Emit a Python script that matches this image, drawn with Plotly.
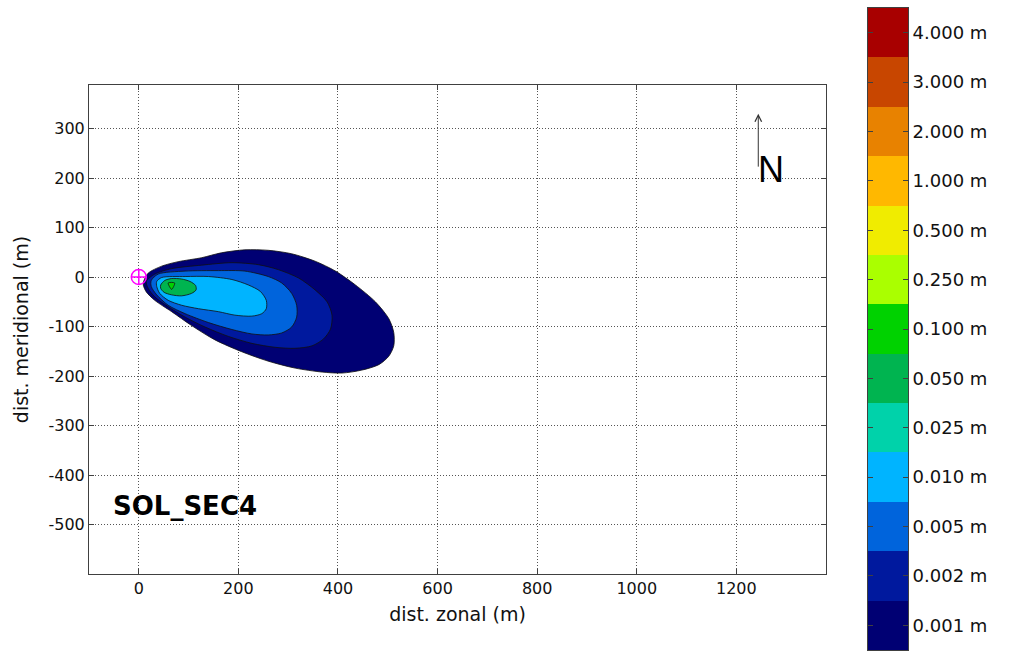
import plotly.graph_objects as go

# Deposit thickness classes (m) and their fill colours, low -> high
class_labels = ["0.001 m", "0.002 m", "0.005 m", "0.010 m", "0.025 m", "0.050 m",
                "0.100 m", "0.250 m", "0.500 m", "1.000 m", "2.000 m", "3.000 m", "4.000 m"]
class_colors = ["#000073", "#00199e", "#0064dc", "#00b4ff", "#00d2aa", "#00b450",
                "#00d200", "#aaff00", "#f0ec00", "#ffb800", "#e88200", "#c84600", "#a80000"]

# Iso-thickness outlines of the plume (x: zonal m, y: meridional m)
x_001 = [10, 19, 46, 79, 126, 166, 213, 260, 307, 354, 395, 435, 475, 502, 512, 512,
         502, 482, 448, 408, 368, 314, 260, 207, 153, 106, 66, 32, 15, 9]
y_001 = [-8, 8, 22, 31, 39, 49, 55, 54, 47, 32, 12, -16, -50, -84, -112, -139,
         -160, -177, -188, -194, -192, -184, -170, -151, -127, -98, -70, -47, -30, -16]

x_002 = [15, 32, 66, 126, 187, 240, 280, 321, 354, 378, 388, 385, 371, 348, 314, 274,
         227, 180, 133, 93, 59, 32, 19]
y_002 = [-9, 6, 17, 24, 29, 25, 15, -2, -26, -50, -77, -105, -125, -139, -144, -142,
         -134, -120, -101, -81, -60, -40, -23]

x_005 = [25, 39, 93, 160, 213, 260, 287, 307, 317, 317, 307, 287, 260, 227, 187, 140,
         93, 59, 36, 25]
y_005 = [-7, 6, 12, 13, 12, 1, -12, -33, -57, -81, -101, -113, -117, -115, -106, -92,
         -74, -57, -36, -19]

x_010 = [36, 46, 93, 140, 187, 220, 244, 256, 256, 247, 227, 193, 160, 120, 86, 59, 42, 36]
y_010 = [-9, -1, 1, 1, -5, -16, -29, -47, -64, -74, -79, -77, -70, -64, -57, -47, -33, -19]

x_050 = [44, 52, 66, 86, 103, 114, 115, 106, 86, 66, 51, 44]
y_050 = [-16, -7, -3, -4, -9, -17, -26, -33, -38, -36, -31, -23]

x_100 = [59, 72, 66]
y_100 = [-12, -12, -25]

# Vent position
vent_x = [0]
vent_y = [0]

x_ticks = [0, 200, 400, 600, 800, 1000, 1200]
y_ticks = [-500, -400, -300, -200, -100, 0, 100, 200, 300]

FONT = "DejaVu Sans"
AXIS_COL = "#404040"
GRID_COL = "#555555"
GRID_DASH = "1px,2px"

fig = go.Figure()

zones = [
    (x_001, y_001, class_colors[0]),
    (x_002, y_002, class_colors[1]),
    (x_005, y_005, class_colors[2]),
    (x_010, y_010, class_colors[3]),
    (x_050, y_050, class_colors[5]),
    (x_100, y_100, class_colors[6]),
]
for zx, zy, col in zones:
    fig.add_trace(go.Scatter(
        x=zx + zx[:1], y=zy + zy[:1], mode="lines", fill="toself", fillcolor=col,
        line=dict(color="#101010", width=0.8, shape="spline", smoothing=0.8),
        hoverinfo="skip", showlegend=False, xaxis="x", yaxis="y"))

fig.add_trace(go.Scatter(
    x=vent_x, y=vent_y, mode="markers",
    marker=dict(symbol="circle-cross-open", size=15, color="#ff00ff",
                line=dict(color="#ff00ff", width=1.5)),
    hoverinfo="skip", showlegend=False, xaxis="x", yaxis="y"))

# Discrete colour key as a one-column heatmap
fig.add_trace(go.Heatmap(
    z=[[i] for i in range(len(class_labels))], x=[0], y=class_labels,
    colorscale=[[i / (len(class_colors) - 1), c] for i, c in enumerate(class_colors)],
    zmin=0, zmax=len(class_colors) - 1, showscale=False, hoverinfo="skip",
    xaxis="x2", yaxis="y2"))


def tick_text(vals):
    # plain ASCII hyphen for negative values
    return [str(v) for v in vals]


fig.update_layout(
    width=1012, height=651,
    margin=dict(l=0, r=0, t=0, b=0),
    paper_bgcolor="white", plot_bgcolor="white",
    font=dict(family=FONT, size=16, color="#111111"),
    xaxis=dict(
        domain=[89 / 1012, 826 / 1012], range=[-100, 1380],
        tickvals=x_ticks, ticktext=tick_text(x_ticks),
        ticks="inside", ticklen=5, tickcolor=AXIS_COL,
        showline=True, linecolor=AXIS_COL, linewidth=1, mirror="ticks",
        showgrid=True, gridcolor=GRID_COL, griddash=GRID_DASH, gridwidth=1,
        zeroline=False, tickfont=dict(size=16),
        title=dict(text="dist. zonal (m)", font=dict(size=19), standoff=10),
        anchor="y"),
    yaxis=dict(
        domain=[1 - 574 / 651, 1 - 85 / 651], range=[-600, 388],
        tickvals=y_ticks, ticktext=tick_text(y_ticks),
        ticks="inside", ticklen=5, tickcolor=AXIS_COL,
        showline=True, linecolor=AXIS_COL, linewidth=1, mirror="ticks",
        showgrid=True, gridcolor=GRID_COL, griddash=GRID_DASH, gridwidth=1,
        zeroline=False, tickfont=dict(size=16),
        title=dict(text="dist. meridional (m)", font=dict(size=19), standoff=14),
        anchor="x"),
    xaxis2=dict(
        domain=[868 / 1012, 908 / 1012], anchor="y2", showticklabels=False,
        ticks="", showline=True, linecolor=AXIS_COL, mirror=True,
        showgrid=False, zeroline=False, fixedrange=True),
    yaxis2=dict(
        domain=[1 - 650 / 651, 1 - 8 / 651], anchor="x2", side="right",
        type="category", ticks="inside", ticklen=5, tickcolor=AXIS_COL,
        showline=True, linecolor=AXIS_COL, mirror="ticks",
        showgrid=False, zeroline=False, tickfont=dict(size=18), fixedrange=True),
    annotations=[
        dict(x=-55, y=-462, xref="x", yref="y", text="<b>SOL_SEC4</b>",
             showarrow=False, xanchor="left", yanchor="middle",
             font=dict(family=FONT, size=26, color="#000000")),
        dict(x=1244, y=330, xref="x", yref="y", ax=1244, ay=220,
             axref="x", ayref="y", text="", showarrow=True,
             arrowhead=5, arrowsize=1.3, arrowwidth=1, arrowcolor="#333333"),
        dict(x=1269, y=217, xref="x", yref="y", text="N", showarrow=False,
             xanchor="center", yanchor="middle",
             font=dict(family="Liberation Sans", size=36, color="#000000")),
    ],
)

fig.write_html("out.html")
